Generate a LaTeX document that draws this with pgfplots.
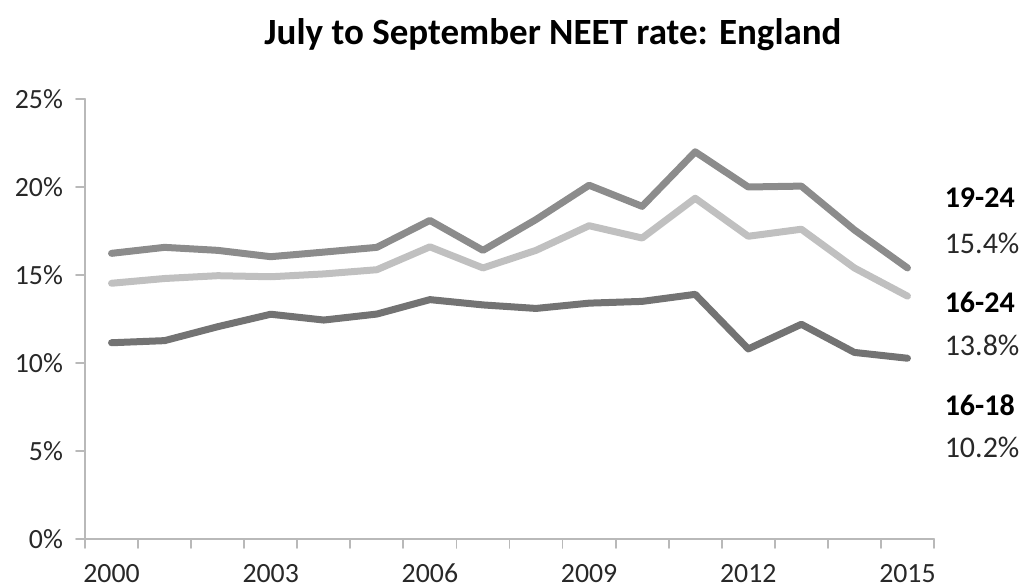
\documentclass[border=0pt]{standalone}
\usepackage{pgfplots}
\pgfplotsset{compat=1.18}
\usepackage{fontspec}
\setmainfont{Carlito}
\definecolor{cA}{RGB}{140,140,140}
\definecolor{cB}{RGB}{192,192,192}
\definecolor{cC}{RGB}{115,115,115}
\definecolor{axgray}{RGB}{185,185,185}
\definecolor{txt}{RGB}{40,40,40}
\begin{document}
\begin{tikzpicture}
\begin{axis}[
  name=ax, at={(0,0)}, anchor=south west,
  scale only axis, width=424.5pt, height=220pt,
  xmin=1999.5, xmax=2015.5, ymin=0, ymax=25,
  axis x line*=bottom, axis y line*=left,
  axis line style={draw=axgray, line width=0.9pt, -},
  tick align=outside,
  xtick={1999.5,2000.5,...,2015.5}, xticklabels={},
  extra x ticks={2000,2003,2006,2009,2012,2015},
  extra x tick labels={2000,2003,2006,2009,2012,2015},
  extra x tick style={major tick length=0pt, tick label style={anchor=north, text height=9.5pt, text depth=0pt, yshift=-8.5pt}},
  ytick={0,5,10,15,20,25},
  yticklabel={\pgfmathprintnumber{\tick}\%},
  major tick length=4.5pt,
  tick style={draw=axgray, line width=0.9pt},
  ticklabel style={font=\fontsize{13.9}{16}\selectfont, text=txt},
  /pgf/number format/assume math mode=true,
  /pgf/number format/1000 sep={},
  yticklabel style={xshift=-3pt},
  clip=false,
  line cap=round, line join=round,
]
\addplot[cA, line width=3.5pt] coordinates {
(2000,16.23)(2001,16.57)(2002,16.4)(2003,16.04)(2004,16.3)(2005,16.57)(2006,18.1)(2007,16.4)
(2008,18.15)(2009,20.1)(2010,18.9)(2011,22.0)(2012,20.0)(2013,20.05)(2014,17.56)(2015,15.4)};
\addplot[cB, line width=3.5pt] coordinates {
(2000,14.53)(2001,14.8)(2002,14.96)(2003,14.9)(2004,15.06)(2005,15.3)(2006,16.6)(2007,15.4)
(2008,16.4)(2009,17.8)(2010,17.1)(2011,19.36)(2012,17.2)(2013,17.6)(2014,15.4)(2015,13.8)};
\addplot[cC, line width=3.5pt] coordinates {
(2000,11.15)(2001,11.27)(2002,12.06)(2003,12.77)(2004,12.44)(2005,12.78)(2006,13.6)(2007,13.3)
(2008,13.1)(2009,13.4)(2010,13.5)(2011,13.9)(2012,10.8)(2013,12.2)(2014,10.6)(2015,10.27)};
\node[anchor=west, font=\fontsize{15}{18}\selectfont\bfseries, text=black] at (axis cs:2015.57,19.37) {19-24};
\node[anchor=west, font=\fontsize{15}{18}\selectfont, text=txt] at (axis cs:2015.57,16.8) {15.4\%};
\node[anchor=west, font=\fontsize{15}{18}\selectfont\bfseries, text=black] at (axis cs:2015.57,13.47) {16-24};
\node[anchor=west, font=\fontsize{15}{18}\selectfont, text=txt] at (axis cs:2015.57,11.0) {13.8\%};
\node[anchor=west, font=\fontsize{15}{18}\selectfont\bfseries, text=black] at (axis cs:2015.57,7.6) {16-18};
\node[anchor=west, font=\fontsize{15}{18}\selectfont, text=txt] at (axis cs:2015.57,5.2) {10.2\%};
\end{axis}
\node[font=\fontsize{18.5}{22}\selectfont\bfseries] at (234pt,252pt) {July to September NEET rate: England};
\pgfresetboundingbox
\path (-42.5pt,-24pt) rectangle (469.5pt,269.5pt);
\end{tikzpicture}
\end{document}
